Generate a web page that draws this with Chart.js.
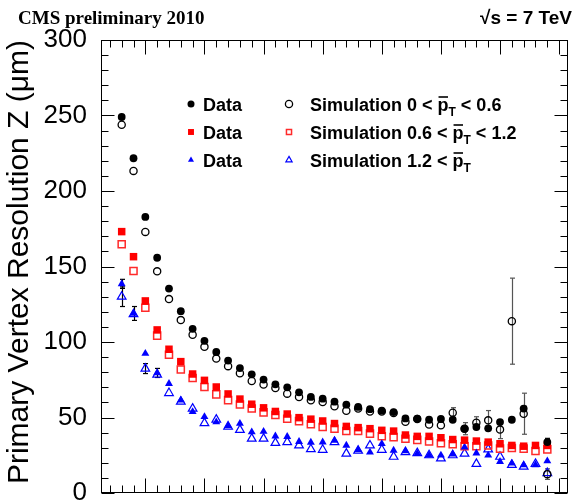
<!DOCTYPE html>
<html>
<head>
<meta charset="utf-8">
<script src="https://cdn.jsdelivr.net/npm/chart.js@4/dist/chart.umd.min.js"></script>
<style>
  html, body { margin: 0; padding: 0; background: #fff; overflow: hidden; }
  #wrap { position: relative; width: 575px; height: 530px; }
</style>
</head>
<body>
<div id="wrap"><canvas id="chart"></canvas></div>
<script>
// track multiplicity bins (bin centres)
const nTracks = [6, 8, 10, 12, 14, 16, 18, 20, 22, 24, 26, 28, 30, 32, 34, 36, 38, 40, 42,
  44, 46, 48, 50, 52, 54, 56, 58, 60, 62, 64, 66, 68, 70, 72, 74, 76, 78];

// resolution in um, three pT bins, data and simulation
const dataLow = [249, 221.7, 182.8, 155.8, 135.4, 120.4, 108.7, 100.8, 93.4, 87.7, 82.7, 78.6,
  75.1, 72, 70, 66.7, 63.6, 62.5, 60.5, 58.5, 57, 55.5, 54.5, 53.6, 49.4, 49.2, 48.5, 49, 48.5,
  42.6, 43.7, 42.8, 47, 48.5, 55.9, null, 33.7];
const simLow = [243.9, 213.3, 172.9, 146.8, 128.4, 114.5, 104.8, 96.8, 89, 84, 79.3, 74.2,
  71.9, 69.5, 65.8, 63.6, 61.4, 60.3, 57.5, 54.5, 56, 54, 54, 53, 47.2, 49, 45.3, 44.8, 53.2,
  42.6, 46.5, 48.1, 42, 113.8, 52.5, null, 12.5];
const dataMid = [173.1, 156.5, 127.2, 108, 95.2, 87, 78.8, 74.6, 70.2, 65.6, 62.2, 58.8, 56.4,
  54, 52.3, 49.9, 48.9, 47.7, 46, 44.1, 43.3, 42.6, 41.5, 41, 38.4, 37.5, 37.5, 36.6, 35.4, 35,
  34.4, 33.7, 32.6, 31.5, 31, 31.5, 31.5];
const simMid = [164.7, 147, 122.7, 104.2, 91.5, 81.8, 76.2, 70.2, 65.3, 61.5, 58.6, 56, 53.4,
  51.7, 49.2, 47.6, 45.5, 43.7, 42.6, 41.1, 41.1, 39.3, 37.6, 37, 35.9, 35.2, 34.1, 33, 32.3, 31,
  31, 31.5, 29.4, 29.8, 29.4, 27.8, 28.9];
const dataHigh = [138.5, 118.9, 92.4, 79.5, 72.4, 61.4, 53.8, 50.5, 47, 44.5, 46, 40.4, 40.7,
  37.6, 37.3, 34, 33.5, 33.7, 34.8, 31.5, 28.6, 27, 32.6, 28.2, 27.8, 26.1, 25, 25, 25.7, 30.4,
  26.4, 25, 20.8, 19.7, 18.6, 18.6, 21.2];
const simHigh = [130, 118.4, 82.4, 78.4, 66.2, 60.5, 55.9, 46.3, 48.6, 44, 41.8, 36, 36, 33.2,
  33.7, 31.5, 29, 28.6, 33.7, 26.1, 28, 31.5, 28.6, 24, 27.1, 26.4, 25, 22.9, 25, 26.1, 19.3,
  28.9, 24, 18.6, 17.5, 19.3, 13.2];

// statistical errors (0 = smaller than the marker)
const errDataLow = [0, 0, 0, 0, 0, 0, 0, 0, 0, 0, 0, 0, 0, 0, 0, 0, 0, 0, 0, 0, 0, 0, 0, 0, 0,
  0, 0, 0, 0, 0, 0, 0, 0, 0, 1.5, 0, 2.5];
const errSimLow = [0, 0, 0, 0, 0, 0, 0, 0, 0, 0, 0, 0, 0, 0, 0, 0, 0, 0, 0, 0, 0, 0, 0, 0, 0,
  0, 0, 0, 3.3, 4, 4, 6.5, 6, 28.5, 13.6, 0, 3.5];
const errDataHigh = [3, 4.6, 0, 3, 0, 0, 0, 0, 0, 0, 0, 0, 0, 0, 0, 0, 0, 0, 0, 0, 0, 0, 0, 0,
  0, 0, 0, 0, 0, 0, 0, 0, 0, 0, 0, 0, 0];
const errSimHigh = [6.5, 0, 3.3, 0, 0, 0, 0, 0, 0, 0, 0, 0, 0, 0, 0, 0, 0, 0, 0, 0, 0, 0, 0, 0,
  0, 0, 0, 0, 0, 0, 0, 0, 0, 0, 0, 0, 0];

const simRanges = [['0 < ', ' < 0.6'], ['0.6 < ', ' < 1.2'], ['1.2 < ', '']];

const SANS = '"Liberation Sans", Arial, Helvetica, sans-serif';
const NONE = 'rgba(0,0,0,0)';

function points(values) {
  return nTracks.map((x, i) => ({ x: x, y: values[i] }));
}

function series(values, style) {
  return Object.assign({ data: points(values), showLine: false, pointBorderWidth: 0 }, style);
}

const datasets = [
  series(dataLow, { pointStyle: 'circle', pointRadius: 3.9, pointBackgroundColor: '#000',
    pointBorderColor: '#000', errors: errDataLow, errorColor: '#000', order: 1 }),
  series(dataMid, { pointStyle: 'rect', pointRadius: 5.3, pointBackgroundColor: '#ff0000',
    pointBorderColor: '#ff0000', order: 1 }),
  series(dataHigh, { pointStyle: 'triangle', pointRadius: 4.6, pointBackgroundColor: '#0000ff',
    pointBorderColor: '#0000ff', errors: errDataHigh, errorColor: '#000', order: 1 }),
  series(simLow, { pointStyle: 'circle', pointRadius: 3.6, pointBackgroundColor: NONE,
    pointBorderColor: '#000', pointBorderWidth: 1.3, errors: errSimLow, errorColor: '#555', order: 2 }),
  series(simMid, { pointStyle: 'rect', pointRadius: 5.0, pointBackgroundColor: NONE,
    pointBorderColor: '#ff2a2a', pointBorderWidth: 1.5, order: 2 }),
  series(simHigh, { pointStyle: 'triangle', pointRadius: 5.0, pointBackgroundColor: NONE,
    pointBorderColor: '#0000ff', pointBorderWidth: 1.2, errors: errSimHigh, errorColor: '#000', order: 2 })
];

function line(ctx, x1, y1, x2, y2) {
  ctx.beginPath(); ctx.moveTo(x1, y1); ctx.lineTo(x2, y2); ctx.stroke();
}

// vertical error bars with small caps, under the markers
const errorBars = {
  id: 'errorBars',
  beforeDatasetsDraw(chart) {
    const { ctx, scales: { x, y } } = chart;
    chart.data.datasets.forEach(ds => {
      if (!ds.errors) return;
      ctx.save();
      ctx.strokeStyle = ds.errorColor;
      ctx.lineWidth = 1.2;
      ds.data.forEach((p, i) => {
        const e = ds.errors[i];
        if (!e || p.y == null) return;
        const px = Math.round(x.getPixelForValue(p.x)) + 0.5;
        const y1 = y.getPixelForValue(p.y + e), y2 = y.getPixelForValue(p.y - e);
        line(ctx, px, y1, px, y2);
        line(ctx, px - 2.5, y1, px + 2.5, y1);
        line(ctx, px - 2.5, y2, px + 2.5, y2);
      });
      ctx.restore();
    });
  }
};

// ROOT style frame with inward ticks on all four sides
const frame = {
  id: 'frame',
  afterDraw(chart) {
    const { ctx, chartArea: a, scales: { x, y } } = chart;
    ctx.save();
    ctx.strokeStyle = '#000';
    ctx.lineWidth = 1;
    const L = Math.round(a.left) + 0.5, R = Math.round(a.right) - 0.5;
    const T = Math.round(a.top) + 0.5, B = Math.round(a.bottom) - 0.5;
    ctx.strokeRect(L, T, R - L, B - T);
    for (let v = 4; v <= x.max; v += 2) {
      const px = Math.round(x.getPixelForValue(v)) + 0.5;
      const len = v % 10 === 0 ? 14 : 7;
      line(ctx, px, B, px, B - len);
      line(ctx, px, T, px, T + len);
    }
    for (let v = 0; v <= y.max; v += 10) {
      const py = Math.round(y.getPixelForValue(v)) + 0.5;
      const len = v % 50 === 0 ? 13 : 7;
      line(ctx, L, py, L + len, py);
      line(ctx, R, py, R - len, py);
    }
    ctx.restore();
  }
};

// header and two-column legend
const labels = {
  id: 'labels',
  afterDraw(chart) {
    const { ctx } = chart;
    ctx.save();
    ctx.fillStyle = '#000';
    ctx.textBaseline = 'alphabetic';
    ctx.font = 'bold 19px "Liberation Serif", "Times New Roman", serif';
    ctx.textAlign = 'left';
    ctx.fillText('CMS preliminary 2010', 18, 24);
    ctx.font = 'bold 19px ' + SANS;
    ctx.textAlign = 'right';
    ctx.fillText('\u221As = 7 TeV', 572, 24);

    ctx.textAlign = 'left';
    const rows = [104, 132, 160];
    const ds = chart.data.datasets;
    rows.forEach((ry, r) => {
      markerAt(ctx, ds[r], 191, ry, r === 1 ? 4.2 : 3.5);
      markerAt(ctx, ds[r + 3], 289, ry, 3.6);
      ctx.fillStyle = '#000';
      ctx.font = 'bold 18px ' + SANS;
      ctx.fillText('Data', 203, ry + 7);
      simLabel(ctx, 310, ry + 7, simRanges[r]);
    });
    ctx.restore();
  }
};

function markerAt(ctx, ds, x, y, radius) {
  ctx.save();
  ctx.fillStyle = ds.pointBackgroundColor;
  ctx.strokeStyle = ds.pointBorderColor;
  ctx.lineWidth = ds.pointBorderWidth;
  Chart.helpers.drawPoint(ctx, { pointStyle: ds.pointStyle, radius: radius,
    borderWidth: ds.pointBorderWidth, rotation: 0 }, x, y);
  ctx.restore();
}

function simLabel(ctx, x, y, range) {
  ctx.font = 'bold 18px ' + SANS;
  let cx = x;
  const head = 'Simulation ' + range[0];
  ctx.fillText(head, cx, y);
  cx += ctx.measureText(head).width;
  ctx.fillText('p', cx, y);
  const wp = ctx.measureText('p').width;
  ctx.lineWidth = 1.6;
  ctx.strokeStyle = '#000';
  line(ctx, cx + 1, y - 14, cx + wp - 0.5, y - 14);
  cx += wp;
  ctx.font = 'bold 12px ' + SANS;
  ctx.fillText('T', cx, y + 5);
  cx += ctx.measureText('T').width;
  ctx.font = 'bold 18px ' + SANS;
  if (range[1]) ctx.fillText(range[1], cx, y);
}

new Chart(document.getElementById('chart'), {
  type: 'scatter',
  data: { datasets: datasets },
  options: {
    responsive: true,
    maintainAspectRatio: false,
    animation: false,
    events: [],
    layout: { padding: { left: 0, right: 7, top: 40, bottom: 37 } },
    plugins: { legend: { display: false }, tooltip: { enabled: false } },
    scales: {
      x: { type: 'linear', min: 2.5, max: 81.5, display: false },
      y: {
        min: 0, max: 300,
        grid: { display: false },
        border: { display: false },
        ticks: { stepSize: 50, padding: 6, color: '#000', font: { family: SANS, size: 26 } },
        title: {
          display: true, align: 'end', color: '#000',
          text: 'Primary Vertex Resolution Z (\u03BCm)',
          font: { family: SANS, size: 30 }, padding: { top: 2, bottom: 0 }
        },
        afterFit(scale) {
          scale.width = 101;
          scale.paddingTop = 0;
          scale.paddingBottom = 0;
        }
      }
    }
  },
  plugins: [errorBars, frame, labels]
});
</script>
</body>
</html>
